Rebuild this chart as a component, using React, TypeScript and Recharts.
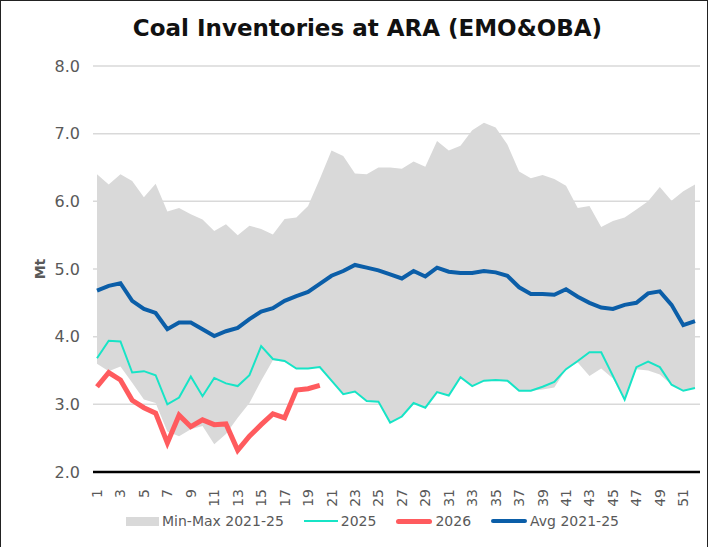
import React from "react";
import {
  ComposedChart,
  Area,
  Line,
  XAxis,
  YAxis,
  CartesianGrid,
  Label,
} from "recharts";

const weeks = Array.from({ length: 52 }, (_, i) => i + 1);

const minValues = [
  3.6, 3.49, 3.56, 3.32, 3.07, 3.02, 2.6, 2.53, 2.63, 2.68, 2.41, 2.56, 2.8,
  3.02, 3.35, 3.65, 3.63, 3.53, 3.53, 3.55, 3.35, 3.15, 3.19, 3.05, 3.04, 2.73,
  2.82, 3.02, 2.95, 3.18, 3.13, 3.4, 3.27, 3.35, 3.36, 3.35, 3.2, 3.2, 3.22,
  3.25, 3.52, 3.62, 3.42, 3.53, 3.38, 3.07, 3.52, 3.5, 3.44, 3.29, 3.2, 3.24,
];

const maxValues = [
  6.4, 6.25, 6.4, 6.3, 6.06, 6.26, 5.85, 5.9, 5.81, 5.73, 5.56, 5.66, 5.5,
  5.64, 5.59, 5.51, 5.74, 5.76, 5.93, 6.33, 6.75, 6.67, 6.41, 6.4, 6.5, 6.5,
  6.48, 6.59, 6.51, 6.89, 6.75, 6.82, 7.05, 7.16, 7.09, 6.84, 6.44, 6.34, 6.39,
  6.33, 6.23, 5.9, 5.93, 5.62, 5.71, 5.76, 5.88, 6.0, 6.21, 6.01, 6.15, 6.25,
];

const values2025 = [
  3.68, 3.94, 3.93, 3.47, 3.49, 3.43, 3.0, 3.1, 3.41, 3.12, 3.39, 3.31, 3.27,
  3.43, 3.86, 3.67, 3.64, 3.53, 3.53, 3.55, 3.35, 3.15, 3.19, 3.05, 3.04, 2.73,
  2.82, 3.02, 2.95, 3.18, 3.13, 3.4, 3.27, 3.35, 3.36, 3.35, 3.2, 3.2, 3.26,
  3.33, 3.52, 3.64, 3.77, 3.77, 3.42, 3.07, 3.55, 3.63, 3.55, 3.29, 3.2, 3.24,
];

const values2026 = [
  3.26, 3.47, 3.36, 3.06, 2.95, 2.87, 2.43, 2.84, 2.67, 2.77, 2.7, 2.71, 2.32,
  2.53, 2.7, 2.86, 2.8, 3.21, 3.23, 3.28,
];

const avgValues = [
  4.68, 4.75, 4.79, 4.53, 4.41, 4.35, 4.11, 4.21, 4.21, 4.11, 4.01, 4.08, 4.13,
  4.26, 4.37, 4.42, 4.53, 4.6, 4.66, 4.78, 4.9, 4.97, 5.06, 5.02, 4.98, 4.92,
  4.86, 4.97, 4.89, 5.02, 4.96, 4.94, 4.94, 4.97, 4.95, 4.9, 4.73, 4.63, 4.63,
  4.62, 4.7, 4.59, 4.5, 4.43, 4.41, 4.47, 4.5, 4.64, 4.67, 4.47, 4.17, 4.23,
];

const yTicks = [2, 3, 4, 5, 6, 7, 8];

const data = weeks.map((w, i) => ({
  week: w,
  range: [minValues[i], maxValues[i]],
  y2025: values2025[i],
  y2026: i < values2026.length ? values2026[i] : null,
  avg: avgValues[i],
}));

const FONT = "'DejaVu Sans', Verdana, sans-serif";
const TEXT = "#595959";
const GRAY = "#d9d9d9";
const TEAL = "#17e4c6";
const RED = "#ff5b5e";
const BLUE = "#0b5ea8";

function WeekTick(props: any) {
  const { x, y, payload } = props;
  return (
    <text
      x={x}
      y={y + 9}
      transform={`rotate(-90, ${x}, ${y + 9})`}
      textAnchor="end"
      dominantBaseline="central"
      fontSize={14}
      fontFamily={FONT}
      fill={TEXT}
    >
      {payload.value}
    </text>
  );
}

function LegendRow() {
  const item = (swatch: React.ReactNode, text: string, gap: number) => (
    <div style={{ display: "flex", alignItems: "center", marginRight: gap }}>
      {swatch}
      <span style={{ marginLeft: 3 }}>{text}</span>
    </div>
  );
  return (
    <div
      style={{
        position: "absolute",
        left: 126,
        top: 513,
        display: "flex",
        alignItems: "center",
        fontFamily: FONT,
        fontSize: 14,
        color: TEXT,
        whiteSpace: "nowrap",
      }}
    >
      {item(
        <div style={{ width: 33, height: 9, background: GRAY }} />,
        "Min-Max 2021-25",
        20
      )}
      {item(
        <div style={{ width: 34, height: 2, background: TEAL }} />,
        "2025",
        20
      )}
      {item(
        <div style={{ width: 36, height: 5, background: RED, borderRadius: 3 }} />,
        "2026",
        20
      )}
      {item(
        <div style={{ width: 36, height: 4, background: BLUE, borderRadius: 2 }} />,
        "Avg 2021-25",
        0
      )}
    </div>
  );
}

export default function App() {
  return (
    <div
      style={{
        position: "absolute",
        left: 0,
        top: 0,
        width: 710,
        height: 547,
        background: "#fff",
        overflow: "hidden",
      }}
    >
      <div
        style={{
          position: "absolute",
          left: 0,
          top: 0,
          width: 706,
          height: 560,
          border: "1.5px solid #222",
        }}
      />
      <div
        style={{
          position: "absolute",
          left: 0,
          width: 735,
          top: 15,
          textAlign: "center",
          fontFamily: FONT,
          fontWeight: "bold",
          fontSize: 23,
          color: "#111",
        }}
      >
        Coal Inventories at ARA (EMO&amp;OBA)
      </div>
      <ComposedChart
        width={710}
        height={547}
        data={data}
        margin={{ top: 66, right: 10, left: 0, bottom: 35 }}
      >
        <CartesianGrid vertical={false} stroke={GRAY} strokeWidth={1.5} />
        <XAxis
          dataKey="week"
          interval={1}
          height={40}
          padding={{ left: 4, right: 5 }}
          tickLine={false}
          axisLine={{ stroke: "#000", strokeWidth: 2.5 }}
          tick={<WeekTick />}
        />
        <YAxis
          width={93}
          domain={[2, 8]}
          ticks={yTicks}
          tickFormatter={(v: number) => v.toFixed(1)}
          axisLine={false}
          tickLine={false}
          tickMargin={7}
          tick={{ fontSize: 16, fontFamily: FONT, fill: TEXT }}
        >
          <Label
            value="Mt"
            angle={-90}
            position="insideLeft"
            offset={40}
            style={{
              textAnchor: "middle",
              fontWeight: "bold",
              fontSize: 14,
              fontFamily: FONT,
              fill: TEXT,
            }}
          />
        </YAxis>
        <Area
          type="linear"
          dataKey="range"
          fill={GRAY}
          fillOpacity={1}
          stroke="none"
          isAnimationActive={false}
        />
        <Line
          type="linear"
          dataKey="y2025"
          stroke={TEAL}
          strokeWidth={2}
          dot={false}
          isAnimationActive={false}
        />
        <Line
          type="linear"
          dataKey="y2026"
          stroke={RED}
          strokeWidth={5}
          dot={false}
          isAnimationActive={false}
        />
        <Line
          type="linear"
          dataKey="avg"
          stroke={BLUE}
          strokeWidth={4}
          dot={false}
          isAnimationActive={false}
        />
      </ComposedChart>
      <LegendRow />
    </div>
  );
}
